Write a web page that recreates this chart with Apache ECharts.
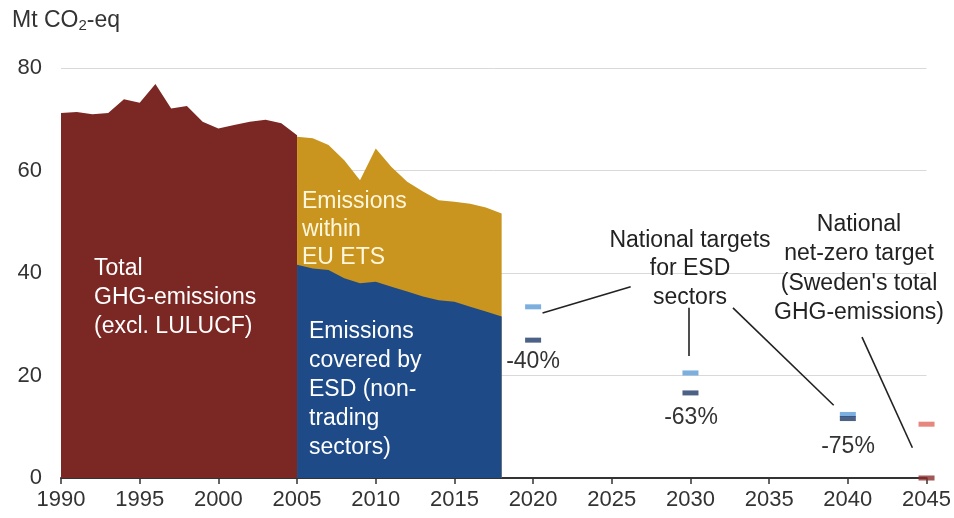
<!DOCTYPE html>
<html>
<head>
<meta charset="utf-8">
<script src="https://cdn.jsdelivr.net/npm/echarts@6/dist/echarts.min.js"></script>
<style>
  html, body { margin: 0; padding: 0; background: #fff; }
  #main { width: 954px; height: 518px; }
</style>
</head>
<body>
<div id="main"></div>
<script>
// values, Mt CO2-eq
var totalYears = [1990, 1991, 1992, 1993, 1994, 1995, 1996, 1997, 1998, 1999, 2000, 2001, 2002, 2003, 2004, 2005];
var totalValues = [71.2, 71.4, 71.0, 71.2, 73.9, 73.2, 76.9, 72.1, 72.6, 69.5, 68.2, 68.9, 69.5, 69.9, 69.2, 66.9];

var splitYears = [2005, 2006, 2007, 2008, 2009, 2010, 2011, 2012, 2013, 2014, 2015, 2016, 2017, 2018];
var etsTopValues = [66.6, 66.3, 65.0, 62.0, 58.1, 64.3, 60.7, 57.8, 55.9, 54.2, 53.9, 53.5, 52.8, 51.6];
var esdValues = [41.6, 40.9, 40.6, 39.0, 38.0, 38.3, 37.3, 36.4, 35.4, 34.7, 34.4, 33.4, 32.5, 31.5];

var targetYears = [2020, 2030, 2040];
var targetLight = [33.4, 20.5, 12.4];
var targetDark = [26.9, 16.6, 11.6];
var netZeroYear = 2045;
var netZeroTotal = 10.5;
var netZeroNet = 0;

// leader lines, [year, value] pairs
var leaders = [
    [[2020.6, 32.2], [2026.2, 37.3]],
    [[2029.9, 33.2], [2029.9, 23.8]],
    [[2032.7, 33.2], [2039.1, 14.2]],
    [[2040.9, 27.5], [2044.1, 5.9]]
];

function pairs(xs, ys) {
    var out = [];
    for (var i = 0; i < xs.length; i++) out.push([xs[i], ys[i]]);
    return out;
}

var FONT = '"Liberation Sans", Arial, sans-serif';
var myChart = echarts.init(document.getElementById('main'));

var option = {
    animation: false,
    grid: { left: 61, right: 24, top: 68, bottom: 40 },
    xAxis: {
        type: 'value',
        min: 1990,
        max: 2045,
        interval: 5,
        axisLine: { show: true, lineStyle: { color: '#333', width: 2 } },
        axisTick: { show: true, length: 6, lineStyle: { color: '#333', width: 1.5 } },
        axisLabel: {
            color: '#333', fontSize: 22, fontFamily: FONT, margin: 11,
            formatter: function (v) { return String(v); }
        },
        splitLine: { show: false }
    },
    yAxis: {
        type: 'value',
        min: 0,
        max: 80,
        interval: 20,
        axisLine: { show: false },
        axisTick: { show: false },
        axisLabel: { color: '#333', fontSize: 22, fontFamily: FONT, margin: 19 },
        splitLine: { lineStyle: { color: '#d9d9d9', width: 1 } }
    },
    series: [
        {
            name: 'Total GHG',
            type: 'line',
            data: pairs(totalYears, totalValues),
            symbol: 'none',
            lineStyle: { width: 0 },
            areaStyle: { color: '#7b2824', opacity: 1 },
            z: 2
        },
        {
            name: 'EU ETS',
            type: 'line',
            data: pairs(splitYears, etsTopValues),
            symbol: 'none',
            lineStyle: { width: 0 },
            areaStyle: { color: '#c9951f', opacity: 1 },
            z: 2
        },
        {
            name: 'ESD',
            type: 'line',
            data: pairs(splitYears, esdValues),
            symbol: 'none',
            lineStyle: { width: 0 },
            areaStyle: { color: '#1e4a87', opacity: 1 },
            z: 3
        },
        {
            name: 'target light',
            type: 'scatter',
            data: pairs(targetYears, targetLight),
            symbol: 'rect',
            symbolSize: [16, 5],
            itemStyle: { color: '#5b9bd5' },
            z: 5
        },
        {
            name: 'target dark',
            type: 'scatter',
            data: pairs(targetYears, targetDark),
            symbol: 'rect',
            symbolSize: [16, 5],
            itemStyle: { color: '#1f3a68' },
            z: 5
        },
        {
            name: 'net zero',
            type: 'scatter',
            data: [[netZeroYear, netZeroTotal]],
            symbol: 'rect',
            symbolSize: [16, 5],
            itemStyle: { color: '#e0685c' },
            z: 5
        },
        {
            name: 'net zero net',
            type: 'scatter',
            data: [[netZeroYear, netZeroNet]],
            symbol: 'rect',
            symbolSize: [16, 5],
            itemStyle: { color: '#8b2c2c' },
            z: 6
        },
        {
            name: 'leaders',
            type: 'lines',
            coordinateSystem: 'cartesian2d',
            data: leaders.map(function (l) { return { coords: l }; }),
            lineStyle: { color: '#222', width: 1.6, opacity: 1 },
            z: 4
        }
    ],
    graphic: [
        {
            type: 'text', left: 12, top: 9,
            style: {
                text: 'Mt CO{sub|2}-eq',
                fill: '#333',
                font: '23px ' + FONT,
                rich: { sub: { fontSize: 15, fontFamily: FONT, verticalAlign: 'bottom', padding: [10, 0, 0, 0], fill: '#333' } }
            }
        },
        {
            type: 'text', x: 94, y: 254, z: 10,
            style: { text: 'Total\nGHG-emissions\n(excl. LULUCF)', fill: '#fff', font: '23px ' + FONT, lineHeight: 29, textAlign: 'left', textVerticalAlign: 'top' }
        },
        {
            type: 'text', x: 302, y: 188, z: 10,
            style: { text: 'Emissions\nwithin\nEU ETS', fill: '#fff7dc', font: '23px ' + FONT, lineHeight: 28, textAlign: 'left', textVerticalAlign: 'top' }
        },
        {
            type: 'text', x: 309, y: 317, z: 10,
            style: { text: 'Emissions\ncovered by\nESD (non-\ntrading\nsectors)', fill: '#fff', font: '23px ' + FONT, lineHeight: 29, textAlign: 'left', textVerticalAlign: 'top' }
        },
        {
            type: 'text', x: 690, y: 226, z: 10,
            style: { text: 'National targets\nfor ESD\nsectors', fill: '#222', font: '23px ' + FONT, lineHeight: 28.5, textAlign: 'center', textVerticalAlign: 'top' }
        },
        {
            type: 'text', x: 859, y: 210, z: 10,
            style: { text: 'National\nnet-zero target\n(Sweden\'s total\nGHG-emissions)', fill: '#222', font: '23px ' + FONT, lineHeight: 29.3, textAlign: 'center', textVerticalAlign: 'top' }
        },
        {
            type: 'text', x: 533, y: 362, z: 10,
            style: { text: '-40%', fill: '#333', font: '23px ' + FONT, textAlign: 'center', textVerticalAlign: 'middle' }
        },
        {
            type: 'text', x: 691, y: 418, z: 10,
            style: { text: '-63%', fill: '#333', font: '23px ' + FONT, textAlign: 'center', textVerticalAlign: 'middle' }
        },
        {
            type: 'text', x: 848, y: 447, z: 10,
            style: { text: '-75%', fill: '#333', font: '23px ' + FONT, textAlign: 'center', textVerticalAlign: 'middle' }
        }
    ]
};

myChart.setOption(option);
</script>
</body>
</html>
